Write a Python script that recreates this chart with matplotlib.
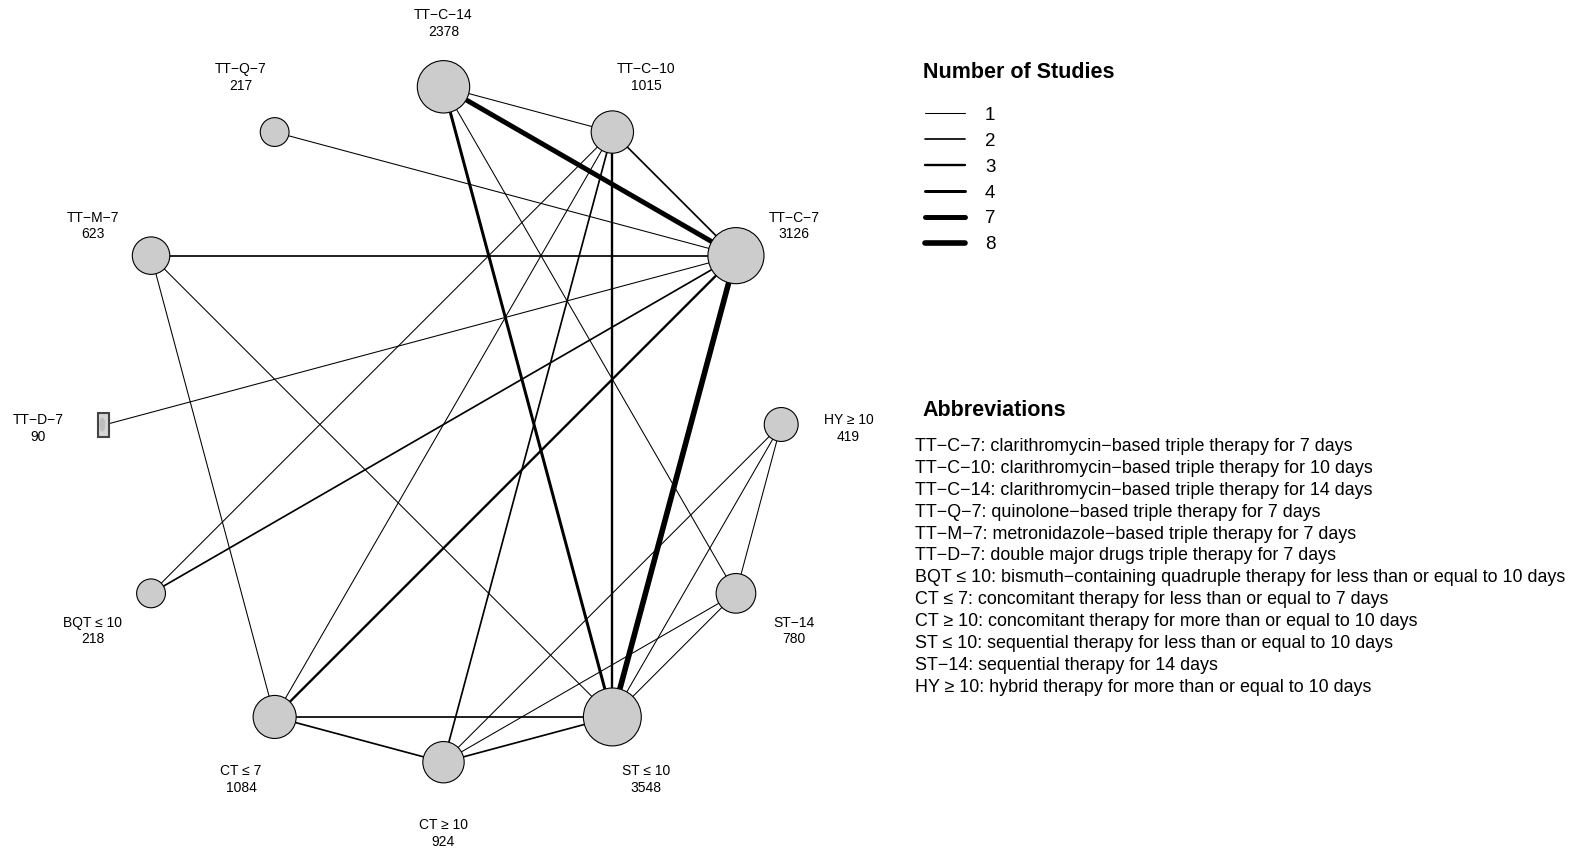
import numpy as np
import matplotlib.pyplot as plt
from matplotlib.patches import Circle, Rectangle, Ellipse

plt.rcParams['font.family'] = ['Liberation Sans', 'DejaVu Sans']

# treatments, clockwise from the top of the circle
treatments = ['TT\u2212C\u221214', 'TT\u2212C\u221210', 'TT\u2212C\u22127', 'HY \u2265 10',
              'ST\u221214', 'ST \u2264 10', 'CT \u2265 10', 'CT \u2264 7', 'BQT \u2264 10',
              'TT\u2212D\u22127', 'TT\u2212M\u22127', 'TT\u2212Q\u22127']
sample_sizes = [2378, 1015, 3126, 419, 780, 3548, 924, 1084, 218, 90, 623, 217]

# direct comparisons and the number of studies behind each
edge_from = ['TT\u2212C\u221214', 'TT\u2212C\u221214', 'TT\u2212C\u221214', 'TT\u2212C\u221214',
             'TT\u2212C\u221210', 'TT\u2212C\u221210', 'TT\u2212C\u221210', 'TT\u2212C\u221210',
             'TT\u2212C\u221210', 'TT\u2212C\u22127', 'TT\u2212C\u22127', 'TT\u2212C\u22127',
             'TT\u2212C\u22127', 'TT\u2212C\u22127', 'TT\u2212C\u22127', 'TT\u2212M\u22127',
             'TT\u2212M\u22127', 'CT \u2264 7', 'CT \u2264 7', 'CT \u2265 10', 'CT \u2265 10',
             'CT \u2265 10', 'ST \u2264 10', 'ST \u2264 10', 'HY \u2265 10']
edge_to = ['TT\u2212C\u221210', 'TT\u2212C\u22127', 'ST \u2264 10', 'ST\u221214',
           'TT\u2212C\u22127', 'ST \u2264 10', 'CT \u2265 10', 'CT \u2264 7', 'BQT \u2264 10',
           'TT\u2212Q\u22127', 'TT\u2212M\u22127', 'TT\u2212D\u22127', 'BQT \u2264 10',
           'CT \u2264 7', 'ST \u2264 10', 'CT \u2264 7', 'ST \u2264 10', 'CT \u2265 10',
           'ST \u2264 10', 'ST \u2264 10', 'HY \u2265 10', 'ST\u221214', 'HY \u2265 10',
           'ST\u221214', 'ST\u221214']
n_studies = [1, 7, 4, 1, 2, 3, 2, 1, 1, 1, 2, 1, 2, 3, 8, 1, 1, 2, 2, 2, 1, 1, 1, 1, 1]

legend_counts = [1, 2, 3, 4, 7, 8]

abbreviations = [
    'TT\u2212C\u22127: clarithromycin\u2212based triple therapy for 7 days',
    'TT\u2212C\u221210: clarithromycin\u2212based triple therapy for 10 days',
    'TT\u2212C\u221214: clarithromycin\u2212based triple therapy for 14 days',
    'TT\u2212Q\u22127: quinolone\u2212based triple therapy for 7 days',
    'TT\u2212M\u22127: metronidazole\u2212based triple therapy for 7 days',
    'TT\u2212D\u22127: double major drugs triple therapy for 7 days',
    'BQT \u2264 10: bismuth\u2212containing quadruple therapy for less than or equal to 10 days',
    'CT \u2264 7: concomitant therapy for less than or equal to 7 days',
    'CT \u2265 10: concomitant therapy for more than or equal to 10 days',
    'ST \u2264 10: sequential therapy for less than or equal to 10 days',
    'ST\u221214: sequential therapy for 14 days',
    'HY \u2265 10: hybrid therapy for more than or equal to 10 days',
]


def width_pt(n):
    # edge thickness grows with the number of studies
    return (0.65 * n + 0.4) * 0.72


fig = plt.figure(figsize=(15.81, 8.51), dpi=100)
ax = fig.add_axes([0, 0, 1, 1])
ax.set_xlim(0, 1581)
ax.set_ylim(851, 0)
ax.axis('off')

# circular layout (pixel units)
cx, cy, R, R_lab = 443.5, 424.5, 337.7, 405
ang = np.deg2rad(90 - 30 * np.arange(len(treatments)))
pos = {t: (cx + R * np.cos(a), cy - R * np.sin(a)) for t, a in zip(treatments, ang)}

for a, b, n in zip(edge_from, edge_to, n_studies):
    (x1, y1), (x2, y2) = pos[a], pos[b]
    ax.plot([x1, x2], [y1, y2], color='black', lw=width_pt(n),
            solid_capstyle='round', zorder=1)

for t, n, a in zip(treatments, sample_sizes, ang):
    x, y = pos[t]
    if t == 'TT\u2212D\u22127':
        ax.add_patch(Rectangle((x - 8, y - 12), 11, 24, facecolor='#d6d6d6',
                               edgecolor='#444444', lw=1.5, zorder=2))
        ax.add_patch(Ellipse((x - 3.5, y), 6, 14, facecolor='#bdbdbd',
                             edgecolor='none', zorder=3))
    else:
        r = 3.75 * n ** 0.25
        ax.add_patch(Circle((x, y), r, facecolor='#cccccc', edgecolor='black',
                            lw=0.8, zorder=2))
    lx, ly = cx + R_lab * np.cos(a), cy - R_lab * np.sin(a) + 4
    ax.text(lx, ly, f'{t}\n{n}', ha='center', va='center', fontsize=10,
            linespacing=1.25, multialignment='center')

# legend for edge widths
ax.text(923, 72.5, 'Number of Studies', fontsize=15.5, fontweight='bold',
        ha='left', va='center')
for i, n in enumerate(legend_counts):
    y = 113.3 + 25.9 * i
    ax.plot([925, 965], [y, y], color='black', lw=width_pt(n),
            solid_capstyle='round')
    ax.text(985, y + 2, str(n), fontsize=13.5, ha='left', va='center')

# abbreviations
ax.text(922, 410.5, 'Abbreviations', fontsize=15.5, fontweight='bold',
        ha='left', va='center')
for i, line in enumerate(abbreviations):
    ax.text(915, 446.5 + 21.9 * i, line, fontsize=12.9, ha='left', va='center')

fig.savefig('out.png', dpi=100)
